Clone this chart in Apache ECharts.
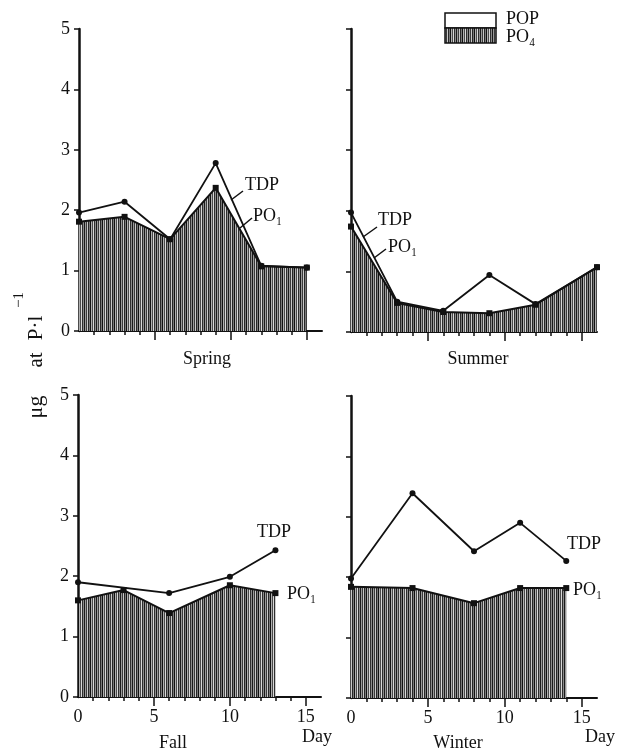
<!DOCTYPE html>
<html><head><meta charset="utf-8">
<script src="https://cdn.jsdelivr.net/npm/echarts@6/dist/echarts.min.js"></script>
<style>html,body{margin:0;padding:0;background:#fff}#c{width:619px;height:756px}</style>
</head><body><div id="c"></div>
<script>
// ---- data ----
const panelNames = ['Spring', 'Summer', 'Fall', 'Winter'];
const yTicks = [0, 1, 2, 3, 4, 5];
const xTickLabels = [0, 5, 10, 15];

const springDays = [0, 3, 6, 9, 12, 15];
const springTDP = [1.96, 2.14, 1.52, 2.78, 1.08, 1.05];
const springPO4 = [1.81, 1.89, 1.52, 2.37, 1.07, 1.05];

const summerDays = [0, 3, 6, 9, 12, 16];
const summerTDP = [1.97, 0.50, 0.35, 0.94, 0.46, 1.07];
const summerPO4 = [1.74, 0.48, 0.33, 0.31, 0.45, 1.07];

const fallTDPDays = [0, 6, 10, 13];
const fallTDP = [1.90, 1.72, 1.99, 2.43];
const fallPO4Days = [0, 3, 6, 10, 13];
const fallPO4 = [1.60, 1.77, 1.39, 1.85, 1.72];

const winterDays = [0, 4, 8, 11, 14];
const winterTDP = [1.98, 3.39, 2.43, 2.90, 2.27];
const winterPO4 = [1.84, 1.82, 1.57, 1.82, 1.82];

// ---- pattern ----
const pc = document.createElement('canvas');
const stripes = ['#1a1a1a','#9a9a9a','#3a3a3a','#c8c8c8','#262626','#7a7a7a','#111111','#b0b0b0','#4a4a4a','#d8d8d8','#2e2e2e','#8c8c8c'];
pc.width = stripes.length; pc.height = 4;
const pctx = pc.getContext('2d');
stripes.forEach((c, i) => { pctx.fillStyle = c; pctx.fillRect(i, 0, 1, 4); });
const hatch = { image: pc, repeat: 'repeat' };

const FONT = '"Liberation Serif", "DejaVu Serif", serif';
const grids = [
  { left: 79, top: 29, width: 243, height: 302 },
  { left: 351, top: 29, width: 246, height: 303 },
  { left: 78, top: 395, width: 243, height: 302 },
  { left: 351, top: 396, width: 246, height: 302 }
];
const minorVals = [];
for (let d = 1; d <= 15; d++) minorVals.push(d);

const xAxis = [], yAxis = [];
grids.forEach((g, i) => {
  const bottom = i >= 2;
  xAxis.push({
    type: 'value', gridIndex: i, min: 0, max: 16, interval: 5,
    axisLine: { show: true, lineStyle: { color: '#111', width: 2 } },
    axisTick: { show: true, customValues: minorVals, length: 4, lineStyle: { color: '#111', width: 1.5 } },
    axisLabel: { show: false },
    splitLine: { show: false }
  });
  xAxis.push({
    type: 'value', gridIndex: i, min: 0, max: 16, interval: 5, position: 'bottom',
    axisLine: { show: false },
    axisTick: { show: true, customValues: [5, 10, 15], length: 9, lineStyle: { color: '#111', width: 1.5 } },
    axisLabel: { show: bottom, customValues: xTickLabels, margin: 11, fontFamily: FONT, fontSize: 18, color: '#111' },
    splitLine: { show: false }
  });
  yAxis.push({
    type: 'value', gridIndex: i, min: 0, max: 5, interval: 1,
    axisLine: { show: true, lineStyle: { color: '#111', width: 2.5 } },
    axisTick: { show: true, customValues: yTicks, length: 5, lineStyle: { color: '#111', width: 1.5 } },
    axisLabel: { show: i % 2 === 0, customValues: yTicks, margin: 9, fontFamily: FONT, fontSize: 18, color: '#111' },
    splitLine: { show: false }
  });
});

function pairs(xs, ys) { return xs.map((x, k) => [x, ys[k]]); }
const panelData = [
  [pairs(springDays, springTDP), pairs(springDays, springPO4)],
  [pairs(summerDays, summerTDP), pairs(summerDays, summerPO4)],
  [pairs(fallTDPDays, fallTDP), pairs(fallPO4Days, fallPO4)],
  [pairs(winterDays, winterTDP), pairs(winterDays, winterPO4)]
];
const series = [];
panelData.forEach((pd, i) => {
  series.push({
    type: 'line', name: 'PO4', xAxisIndex: 2 * i, yAxisIndex: i, data: pd[1],
    symbol: 'rect', symbolSize: 6, showSymbol: true,
    lineStyle: { color: '#111', width: 2 }, itemStyle: { color: '#111' },
    areaStyle: { color: hatch, opacity: 1, origin: 'start' }, z: 2, animation: false
  });
  series.push({
    type: 'line', name: 'TDP', xAxisIndex: 2 * i, yAxisIndex: i, data: pd[0],
    symbol: 'circle', symbolSize: 6,
    lineStyle: { color: '#111', width: 1.8 }, itemStyle: { color: '#111' }, z: 3, animation: false
  });
});

function txt(x, y, s, opts) {
  return Object.assign({ type: 'text', x: x, y: y, z: 10,
    style: { text: s, font: '18px ' + FONT, fill: '#111', textAlign: 'left', textVerticalAlign: 'middle' } }, opts || {});
}
function ln(x1, y1, x2, y2) {
  return { type: 'line', z: 10, shape: { x1: x1, y1: y1, x2: x2, y2: y2 }, style: { stroke: '#111', lineWidth: 1.5 } };
}
function ctr(x, y, s) {
  const t = txt(x, y, s); t.style.textAlign = 'center'; return t;
}
function vtxt(x, y, s, size) {
  return { type: 'text', x: x, y: y, rotation: Math.PI / 2, z: 10,
    style: { text: s, font: size + 'px ' + FONT, fill: '#111', textAlign: 'center', textVerticalAlign: 'middle' } };
}

const graphic = [
  // panel labels
  ctr(207, 359, panelNames[0]), ctr(478, 359, panelNames[1]),
  ctr(173, 743, panelNames[2]), ctr(458, 743, panelNames[3]),
  ctr(317, 737, 'Day'), ctr(600, 737, 'Day'),
  // series annotations
  txt(245, 185, 'TDP'), txt(253, 216, 'PO\u2081'),
  ln(243, 191, 231, 200), ln(252, 218, 240, 228),
  txt(378, 220, 'TDP'), txt(388, 247, 'PO\u2081'),
  ln(377, 227, 363, 237), ln(386, 249, 374, 258),
  txt(257, 532, 'TDP'), txt(287, 594, 'PO\u2081'),
  txt(567, 544, 'TDP'), txt(573, 590, 'PO\u2081'),
  // y axis title (pieces spaced like the original)
  vtxt(36, 407, '\u03bcg', 22), vtxt(36, 360, 'at', 21), vtxt(36, 328, 'P\u00b7l', 21),
  vtxt(19, 300, '\u22121', 15),
  // legend
  { type: 'rect', z: 10, shape: { x: 445, y: 13, width: 51, height: 15 }, style: { fill: '#fff', stroke: '#111', lineWidth: 1.5 } },
  { type: 'rect', z: 10, shape: { x: 445, y: 28, width: 51, height: 15 }, style: { fill: hatch, stroke: '#111', lineWidth: 1.5 } },
  txt(506, 19, 'POP'), txt(506, 37, 'PO\u2084')
];

const chart = echarts.init(document.getElementById('c'), null, { renderer: 'canvas' });
chart.setOption({
  animation: false,
  backgroundColor: '#fff',
  grid: grids,
  xAxis: xAxis,
  yAxis: yAxis,
  series: series,
  graphic: graphic
});
</script></body></html>
